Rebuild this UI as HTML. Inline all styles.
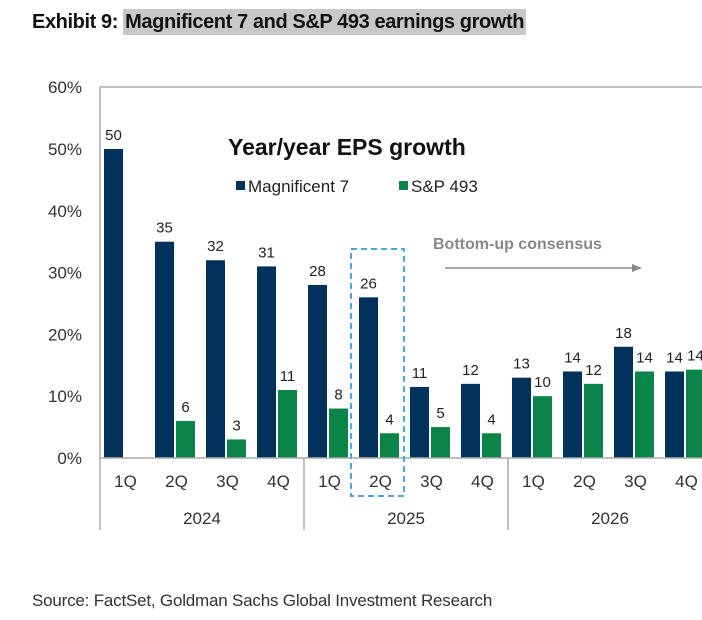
<!DOCTYPE html>
<html><head><meta charset="utf-8"><style>
body{margin:0;background:#fff;width:702px;height:620px;overflow:hidden;position:relative;font-family:"Liberation Sans",Arial,sans-serif}
.hdr{position:absolute;left:32px;top:11px;font:bold 20px "Liberation Sans Narrow","Liberation Sans",sans-serif;letter-spacing:-0.4px;color:#111}
.hdr span{background:#c8c8c8;padding:2px 2px}
.src{position:absolute;left:32px;top:591px;font:17px "Liberation Sans Narrow","Liberation Sans",sans-serif;color:#333;letter-spacing:-0.2px}
</style></head><body>
<div class="hdr">Exhibit 9: <span>Magnificent 7 and S&amp;P 493 earnings growth</span></div>
<svg id="chart" width="702" height="620" style="position:absolute;left:0;top:0"></svg>
<div class="src">Source: FactSet, Goldman Sachs Global Investment Research</div>
<script>
const quarters=["1Q","2Q","3Q","4Q","1Q","2Q","3Q","4Q","1Q","2Q","3Q","4Q"];
const years=["2024","2025","2026"];
const mag7=[50,35,32,31,28,26,11.5,12,13,14,18,14];
const mag7Labels=["50","35","32","31","28","26","11","12","13","14","18","14"];
const sp493=[null,6,3,11,8,4,5,4,10,12,14,14.3];
const sp493Labels=["","6","3","11","8","4","5","4","10","12","14","14"];
const yTicks=[0,10,20,30,40,50,60];
const NS="http://www.w3.org/2000/svg";
const svg=document.getElementById('chart');
const X0=100,CW=51,Y0=458,PPU=6.18;
const y=v=>Y0-v*PPU;
const x=i=>X0+i*CW;
function mk(t,a,txt){const e=document.createElementNS(NS,t);for(const k in a)e.setAttribute(k,a[k]);if(txt!=null)e.textContent=txt;svg.appendChild(e);return e;}
let e=mk('path',{d:`M${X0} ${Y0} V87 H702`,stroke:'#aaa',fill:'none','stroke-width':1.5});

yTicks.forEach(t=>{const l=mk('text',{x:82,y:y(t)+6,'text-anchor':'end','font-size':17,fill:'#333'},t+'%');
});
mag7.forEach((v,i)=>{const b=mk('rect',{x:x(i)+4,y:y(v),width:19,height:v*PPU,fill:'#00325c'});

const l=mk('text',{x:x(i)+13.5,y:y(v)-9,'text-anchor':'middle','font-size':15,fill:'#222'},mag7Labels[i]);
});
sp493.forEach((v,i)=>{if(v==null)return;const b=mk('rect',{x:x(i)+25,y:y(v),width:19,height:v*PPU,fill:'#0a8448'});

const l=mk('text',{x:x(i)+34.5,y:y(v)-9,'text-anchor':'middle','font-size':15,fill:'#222'},sp493Labels[i]);
});
e=mk('line',{x1:X0,x2:702,y1:Y0,y2:Y0,stroke:'#aaa','stroke-width':1.5});

quarters.forEach((q,i)=>{const l=mk('text',{x:x(i)+CW/2,y:487,'text-anchor':'middle','font-size':17,fill:'#333'},q);
});
years.forEach((yr,j)=>{const l=mk('text',{x:x(j*4)+2*CW,y:524,'text-anchor':'middle','font-size':17,fill:'#333'},yr);

const s=mk('line',{x1:x(j*4),x2:x(j*4),y1:Y0,y2:530,stroke:'#aaa','stroke-width':1.5});
});
e=mk('rect',{x:351,y:249,width:53,height:247,fill:'none',stroke:'#4aa8e8','stroke-width':2,'stroke-dasharray':'6,4'});

e=mk('text',{x:228,y:155,'font-size':23,'font-weight':'bold',fill:'#111'},'Year/year EPS growth');

e=mk('rect',{x:236,y:181,width:9,height:9,fill:'#00325c'});
e=mk('text',{x:248,y:192,'font-size':17,fill:'#222'},'Magnificent 7');
e=mk('rect',{x:399,y:181,width:9,height:9,fill:'#0a8448'});
e=mk('text',{x:411,y:192,'font-size':17,fill:'#222'},'S&P 493');
e=mk('text',{x:433,y:249,'font-size':16,'font-weight':'bold',fill:'#888'},'Bottom-up consensus');

e=mk('line',{x1:445,x2:632,y1:268,y2:268,stroke:'#888','stroke-width':1.5});
e=mk('path',{d:'M632 264 L642 268 L632 272 Z',fill:'#888'});
</script>
</body></html>
